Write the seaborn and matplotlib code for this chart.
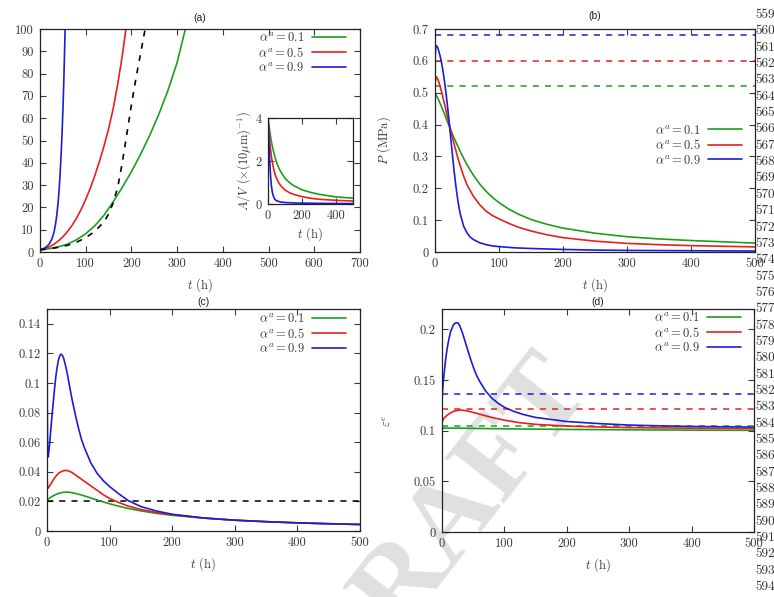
import numpy as np
import pandas as pd
import matplotlib
matplotlib.use("Agg")
import matplotlib.pyplot as plt
import seaborn as sns

# ---------------- data ----------------
alpha_labels = [r"$\alpha^a = 0.1$", r"$\alpha^a = 0.5$", r"$\alpha^a = 0.9$"]
colors = ["#1e9e1e", "#e8201c", "#1c1cdc"]

# (a) volume
ta_green = [0, 20, 40, 60, 80, 100, 120, 140, 160, 180, 200, 220, 240, 260, 280, 300, 318]
Va_green = [1, 1.5, 2.3, 3.5, 5.5, 8.2, 11.8, 16.5, 22.5, 29, 36, 43.8, 52.3, 61.8, 72.5, 85, 100]
ta_red = [0, 10, 20, 30, 40, 50, 60, 70, 80, 90, 100, 110, 120, 130, 140, 150, 160, 170, 180, 188]
Va_red = [1, 1.5, 2.3, 3.4, 4.9, 6.8, 9.1, 11.9, 15.2, 19.1, 23.6, 28.6, 34.3, 40.6, 47.5, 55.2, 64.2, 75.3, 88, 100]
ta_blue = [0, 5, 10, 15, 20, 25, 28, 31, 34, 37, 40, 42, 44, 46, 48, 50, 52, 54, 55]
Va_blue = [1, 1.3, 1.8, 2.5, 3.6, 5.4, 7, 9.3, 12.5, 17, 23, 28.5, 35, 43, 52, 63, 76, 92, 100]
ta_ref = [0, 20, 40, 60, 80, 100, 120, 140, 150, 160, 170, 180, 190, 200, 210, 220, 230]
Va_ref = [1, 1.4, 2.1, 3, 4.4, 6.4, 9.3, 13.5, 17, 22, 29, 40, 53, 66, 78, 89, 100]

# (a) inset A/V
ti_green = [0, 10, 20, 30, 40, 50, 60, 75, 100, 125, 150, 200, 250, 300, 400, 500]
AV_green = [4, 3.4, 2.9, 2.52, 2.2, 1.95, 1.74, 1.5, 1.2, 1.0, 0.86, 0.66, 0.54, 0.45, 0.33, 0.27]
ti_red = [0, 10, 20, 30, 40, 50, 60, 75, 100, 125, 150, 200, 250, 300, 400, 500]
AV_red = [4, 2.9, 2.2, 1.75, 1.42, 1.2, 1.03, 0.85, 0.65, 0.53, 0.45, 0.34, 0.27, 0.22, 0.17, 0.14]
ti_blue = [0, 5, 10, 15, 20, 25, 30, 40, 50, 75, 100, 150, 200, 300, 500]
AV_blue = [4, 3, 2, 1.3, 0.85, 0.57, 0.4, 0.22, 0.15, 0.09, 0.07, 0.05, 0.04, 0.03, 0.02]

# (b) pressure
tb_green = [0, 5, 10, 15, 20, 25, 30, 35, 40, 45, 50, 60, 70, 80, 90, 100, 115, 130, 150, 175, 200, 250, 300, 350, 400, 450, 500]
P_green = [0.5, 0.48, 0.457, 0.432, 0.406, 0.381, 0.357, 0.335, 0.313, 0.293, 0.274, 0.241, 0.213, 0.19, 0.171, 0.155, 0.135, 0.119, 0.102, 0.087, 0.075, 0.059, 0.048, 0.041, 0.036, 0.032, 0.028]
tb_red = [0, 2, 5, 10, 15, 20, 25, 30, 35, 40, 45, 50, 60, 70, 80, 90, 100, 115, 130, 150, 175, 200, 250, 300, 350, 400, 450, 500]
P_red = [0.53, 0.55, 0.54, 0.505, 0.463, 0.42, 0.378, 0.338, 0.3, 0.267, 0.237, 0.211, 0.175, 0.148, 0.128, 0.114, 0.104, 0.09, 0.078, 0.066, 0.054, 0.045, 0.034, 0.027, 0.023, 0.02, 0.018, 0.016]
tb_blue = [0, 1, 2, 4, 6, 8, 10, 12, 14, 16, 18, 20, 22, 24, 26, 28, 30, 32, 34, 36, 38, 40, 45, 50, 55, 60, 70, 80, 90, 100, 125, 150, 200, 250, 300, 400, 500]
P_blue = [0.6, 0.64, 0.648, 0.643, 0.63, 0.615, 0.597, 0.574, 0.548, 0.518, 0.485, 0.449, 0.41, 0.37, 0.33, 0.29, 0.252, 0.217, 0.186, 0.158, 0.135, 0.115, 0.08, 0.06, 0.047, 0.039, 0.029, 0.023, 0.019, 0.017, 0.013, 0.011, 0.008, 0.006, 0.005, 0.004, 0.003]
P_limits = [0.52, 0.60, 0.68]

# (c)
tc_green = [0, 5, 10, 15, 20, 25, 30, 35, 40, 50, 60, 70, 80, 90, 100, 115, 130, 150, 175, 200, 250, 300, 350, 400, 450, 500]
C_green = [0.021, 0.0225, 0.0238, 0.0248, 0.0256, 0.0261, 0.0263, 0.0262, 0.0259, 0.0249, 0.0237, 0.0223, 0.0209, 0.0196, 0.0184, 0.0167, 0.0152, 0.0136, 0.0119, 0.0106, 0.0087, 0.0073, 0.0063, 0.0055, 0.0049, 0.0044]
tc_red = [0, 0.5, 1, 2, 5, 10, 15, 20, 25, 30, 35, 40, 50, 60, 70, 80, 90, 100, 115, 130, 150, 175, 200, 250, 300, 350, 400, 450, 500]
C_red = [0.04, 0.033, 0.03, 0.029, 0.031, 0.0345, 0.0375, 0.0395, 0.0405, 0.041, 0.0405, 0.0395, 0.0365, 0.0335, 0.0305, 0.0275, 0.0245, 0.022, 0.0192, 0.0168, 0.0145, 0.0125, 0.011, 0.0088, 0.0073, 0.0063, 0.0055, 0.0049, 0.0044]
tc_blue = [0, 0.5, 1, 2, 4, 6, 8, 10, 12, 14, 16, 18, 20, 22, 24, 26, 28, 30, 33, 36, 40, 45, 50, 55, 60, 70, 80, 90, 100, 115, 130, 150, 175, 200, 250, 300, 350, 400, 450, 500]
C_blue = [0.15, 0.08, 0.052, 0.05, 0.058, 0.068, 0.078, 0.087, 0.096, 0.104, 0.11, 0.115, 0.118, 0.1195, 0.119, 0.1175, 0.1145, 0.111, 0.105, 0.098, 0.089, 0.079, 0.07, 0.062, 0.056, 0.046, 0.039, 0.034, 0.03, 0.025, 0.0205, 0.0165, 0.0135, 0.0113, 0.0088, 0.0073, 0.0063, 0.0055, 0.0049, 0.0044]
C_limit = 0.02

# (d) elastic strain
td_green = [0, 25, 50, 100, 150, 200, 250, 300, 400, 500]
E_green = [0.1025, 0.1025, 0.1022, 0.1018, 0.1015, 0.1012, 0.101, 0.1008, 0.1005, 0.1003]
td_red = [0, 2, 5, 10, 15, 20, 25, 30, 35, 40, 50, 60, 70, 80, 100, 125, 150, 200, 250, 300, 400, 500]
E_red = [0.108, 0.111, 0.1135, 0.116, 0.118, 0.1193, 0.12, 0.1203, 0.12, 0.1195, 0.118, 0.1163, 0.1146, 0.113, 0.1103, 0.1078, 0.1062, 0.1045, 0.1036, 0.103, 0.1024, 0.102]
td_blue = [0, 1, 2, 4, 6, 8, 10, 12, 14, 16, 18, 20, 22, 24, 26, 28, 30, 33, 36, 40, 45, 50, 55, 60, 70, 80, 90, 100, 115, 130, 150, 175, 200, 250, 300, 350, 400, 450, 500]
E_blue = [0.13, 0.14, 0.148, 0.16, 0.171, 0.18, 0.187, 0.193, 0.198, 0.201, 0.204, 0.2055, 0.2062, 0.2065, 0.206, 0.204, 0.201, 0.196, 0.19, 0.182, 0.172, 0.163, 0.155, 0.149, 0.139, 0.132, 0.127, 0.123, 0.119, 0.116, 0.113, 0.111, 0.109, 0.107, 0.1055, 0.1047, 0.1041, 0.1038, 0.1035]
E_limits = [0.1043, 0.121, 0.136]

line_numbers = list(range(559, 595))

# ---------------- style ----------------
sns.set_theme(style="ticks")
plt.rcParams.update({
    "font.family": "serif",
    "font.serif": ["cmr10", "DejaVu Serif"],
    "mathtext.fontset": "cm",
    "axes.formatter.use_mathtext": True,
    "axes.unicode_minus": False,
    "axes.edgecolor": "#222222",
    "axes.linewidth": 0.9,
    "text.color": "#3a3a3a",
    "xtick.color": "#3a3a3a",
    "ytick.color": "#3a3a3a",
    "axes.labelcolor": "#3a3a3a",
    "axes.facecolor": "none",
})

W, H = 774, 597
fig = plt.figure(figsize=(W / 100, H / 100), dpi=100)
fig.patch.set_facecolor("white")


def rect(l, t, r, b):
    return [l / W, 1 - b / H, (r - l) / W, (b - t) / H]


def style(ax, fs=9):
    ax.tick_params(direction="in", top=True, right=True, length=4, width=0.8,
                   labelsize=fs, pad=4.5)
    for s in ax.spines.values():
        s.set_visible(True)


def fmt(vals):
    return ["{:g}".format(v) for v in vals]


def draw(ax, ts, ys, lw=1.2):
    for t, y, lab, c in zip(ts, ys, alpha_labels, colors):
        df = pd.DataFrame({"t": t, "y": y})
        sns.lineplot(data=df, x="t", y="y", ax=ax, color=c, lw=lw, label=lab,
                     sort=False, estimator=None)


def legend(ax, x, y):
    hl, ll = ax.get_legend_handles_labels()
    ax.legend(hl[:3], ll[:3], loc="upper right", bbox_to_anchor=(x, y), frameon=False,
              markerfirst=False, fontsize=9, handlelength=2.7, handletextpad=0.6,
              labelspacing=0.12, borderpad=0, borderaxespad=0)


title_kw = dict(family="Liberation Sans", fontsize=7.5, color="#222222")
dash = (0, (4, 4))

# watermark (behind everything)
fig.text(0.58, 0.12, "DRAFT", rotation=52, fontsize=82, color="#e0e0e0",
         family="Liberation Serif", weight="bold", ha="center", va="center",
         zorder=-5)

# ---- (a)
axa = fig.add_axes(rect(40, 29, 360, 252))
draw(axa, [ta_green, ta_red, ta_blue], [Va_green, Va_red, Va_blue])
sns.lineplot(x=ta_ref, y=Va_ref, ax=axa, color="black", lw=1.2,
             linestyle=(0, (3.5, 4)), sort=False, estimator=None)
axa.set_xlim(0, 700)
axa.set_ylim(0, 100)
xt_a = [0, 100, 200, 300, 400, 500, 600, 700]
yt_a = [0, 10, 20, 30, 40, 50, 60, 70, 80, 90, 100]
axa.set_xticks(xt_a, fmt(xt_a))
axa.set_yticks(yt_a, fmt(yt_a))
style(axa)
axa.set_xlabel(r"$t$ (h)", fontsize=9)
axa.set_ylabel(r"$V$ ($\times(10\mu$m$)^3$)", fontsize=9)
axa.yaxis.set_label_coords(-0.128, 0.5)
axa.set_title("(a)", pad=6, **title_kw)
legend(axa, 0.955, 0.99)

# inset
axi = fig.add_axes(rect(268, 118, 353, 204))
axi.set_facecolor("white")
for t_, y_, c in zip([ti_green, ti_red, ti_blue], [AV_green, AV_red, AV_blue], colors):
    sns.lineplot(x=t_, y=y_, ax=axi, color=c, lw=1.2, sort=False, estimator=None)
axi.set_xlim(0, 500)
axi.set_ylim(0, 4)
xt_i = [0, 200, 400]
yt_i = [0, 2, 4]
axi.set_xticks(xt_i, fmt(xt_i))
axi.set_yticks(yt_i, fmt(yt_i))
style(axi)
axi.set_xlabel(r"$t$ (h)", fontsize=9, labelpad=2)
axi.set_ylabel(r"$A/V$ ($\times(10\mu$m$)^{-1}$)", fontsize=9, labelpad=2)

# ---- (b)
axb = fig.add_axes(rect(435, 29, 755, 252))
for v, c in zip(P_limits, colors):
    axb.axhline(v, color=c, lw=1.1, linestyle=dash)
draw(axb, [tb_green, tb_red, tb_blue], [P_green, P_red, P_blue])
axb.set_xlim(0, 500)
axb.set_ylim(0, 0.7)
xt_b = [0, 100, 200, 300, 400, 500]
yt_b = [0, 0.1, 0.2, 0.3, 0.4, 0.5, 0.6, 0.7]
axb.set_xticks(xt_b, fmt(xt_b))
axb.set_yticks(yt_b, fmt(yt_b))
style(axb)
axb.set_xlabel(r"$t$ (h)", fontsize=9)
axb.set_ylabel(r"$P$ (MPa)", fontsize=9)
axb.yaxis.set_label_coords(-0.13, 0.5)
axb.set_title("(b)", pad=7, **title_kw)
legend(axb, 0.96, 0.575)

# ---- (c)
axc = fig.add_axes(rect(47, 309, 360, 531))
axc.axhline(C_limit, color="black", lw=1.1, linestyle=dash)
draw(axc, [tc_green, tc_red, tc_blue], [C_green, C_red, C_blue])
axc.set_xlim(0, 500)
axc.set_ylim(0, 0.15)
xt_c = [0, 100, 200, 300, 400, 500]
yt_c = [0, 0.02, 0.04, 0.06, 0.08, 0.1, 0.12, 0.14]
axc.set_xticks(xt_c, fmt(xt_c))
axc.set_yticks(yt_c, fmt(yt_c))
style(axc)
axc.set_xlabel(r"$t$ (h)", fontsize=9)
axc.set_ylabel(r"$\dot{V}/V$ (h$^{-1}$)", fontsize=9)
axc.yaxis.set_label_coords(-0.145, 0.5)
axc.set_title("(c)", pad=3, **title_kw)
legend(axc, 0.955, 0.985)

# ---- (d)
axd = fig.add_axes(rect(442, 309, 754, 532))
for v, c in zip(E_limits, colors):
    axd.axhline(v, color=c, lw=1.1, linestyle=dash)
draw(axd, [td_green, td_red, td_blue], [E_green, E_red, E_blue])
axd.set_xlim(0, 500)
axd.set_ylim(0, 0.22)
xt_d = [0, 100, 200, 300, 400, 500]
yt_d = [0, 0.05, 0.1, 0.15, 0.2]
axd.set_xticks(xt_d, fmt(xt_d))
axd.set_yticks(yt_d, fmt(yt_d))
style(axd)
axd.set_xlabel(r"$t$ (h)", fontsize=9)
axd.set_ylabel(r"$\varepsilon^e$", fontsize=9)
axd.yaxis.set_label_coords(-0.155, 0.5)
axd.set_title("(d)", pad=3, **title_kw)
legend(axd, 0.958, 0.99)

# line numbers of the manuscript
for i, n in enumerate(line_numbers):
    y = 15 + i * (587 - 15) / (len(line_numbers) - 1)
    fig.text(755 / W, 1 - y / H, str(n), fontsize=9.5, color="#333333",
             ha="left", va="center", family="serif")

fig.savefig("out.png", dpi=100)
